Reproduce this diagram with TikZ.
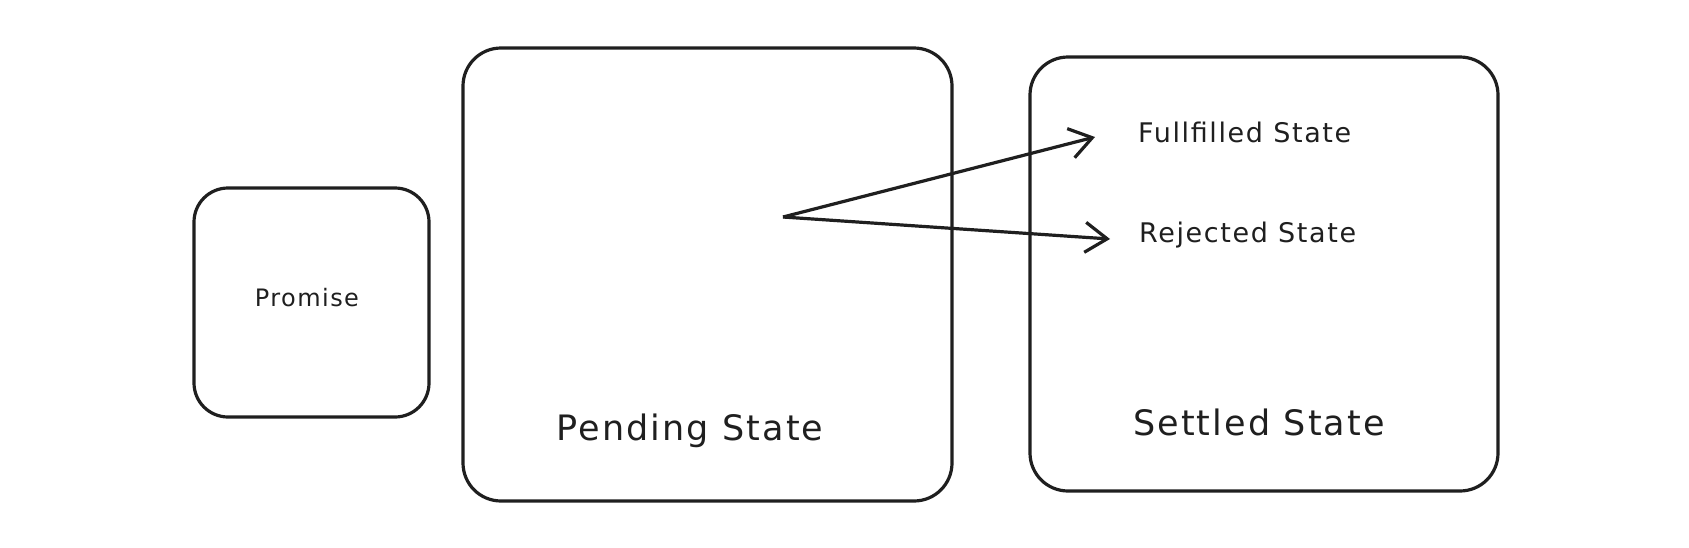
\documentclass[tikz,border=0pt]{standalone}
\usepackage{fontspec}
\setmainfont{DejaVu Sans}[LetterSpace=6]
\usetikzlibrary{arrows.meta}
\begin{document}
\begin{tikzpicture}[x=1pt,y=-1pt,
  box/.style={draw=black!88, line width=3.2pt, rounded corners=38pt},
  lbl/.style={text=black!88, inner sep=0pt},
  arr/.style={draw=black!88, line width=3.2pt, -{Straight Barb[length=22pt,width=30pt,line width=3.2pt]}}]
\useasboundingbox (0,0) rectangle (1689,547);
\node[box, rounded corners=34pt, minimum width=235pt, minimum height=229pt] (promise) at (311.5,302.5) {};
\node[box, minimum width=489pt, minimum height=453pt] (pending) at (707.5,274.5) {};
\node[box, minimum width=468pt, minimum height=434pt] (settled) at (1264,274) {};
\node[lbl, font=\fontsize{24}{28}\selectfont] (ptext) at (307,298) {Promise};
\node[lbl, font=\fontsize{35}{40}\selectfont] (pendtext) at (690,431) {Pending State};
\node[lbl, font=\fontsize{35}{40}\selectfont] (settext) at (1259,422) {Settled State};
\node[lbl, font=\fontsize{27}{30}\selectfont, anchor=west] (ful) at (1138,132) {Fullfilled State};
\node[lbl, font=\fontsize{27}{30}\selectfont, anchor=west] (rej) at (1139,235) {Rejected State};
\coordinate (src) at (783,217);
\coordinate (fend) at (1095,137);
\coordinate (rend) at (1110,239);
\draw[arr] (src) -- (fend);
\draw[arr] (src) -- (rend);
\end{tikzpicture}
\end{document}
